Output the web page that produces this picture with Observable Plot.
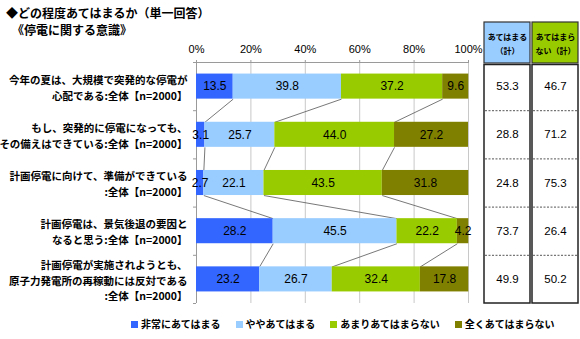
<!DOCTYPE html>
<html><head><meta charset="utf-8">
<script src="https://cdn.jsdelivr.net/npm/d3@7"></script>
<script src="https://cdn.jsdelivr.net/npm/@observablehq/plot@0.6"></script>
<style>
body{margin:0;background:#fff;}
#chart{position:relative;width:580px;height:339px;overflow:hidden;font-family:"Liberation Sans","Noto Sans CJK JP",sans-serif;}
#title{position:absolute;left:6px;top:4px;font:bold 12px/17px "Noto Sans CJK JP",sans-serif;color:#000;white-space:pre;}
#title div + div{padding-left:6px;}
#chart svg{position:absolute;overflow:visible;background:transparent;}
#legend{position:absolute;left:131px;top:317px;display:flex;gap:15px;font:bold 10px/14px "Noto Sans CJK JP",sans-serif;color:#000;}
#legend .item{display:flex;align-items:center;gap:3px;}
#legend .sw{width:7px;height:7px;display:inline-block;}
</style></head>
<body>
<div id="chart">
  <div id="title"></div>
  <div id="legend"></div>
</div>
<script>
// ---- data ----
const titleLines = ["◆どの程度あてはまるか（単一回答）", "《停電に関する意識》"];
const rowLabels = [
  "今年の夏は、大規模で突発的な停電が\n心配である:全体【n=2000】",
  "もし、突発的に停電になっても、\nその備えはできている:全体【n=2000】",
  "計画停電に向けて、準備ができている\n:全体【n=2000】",
  "計画停電は、景気後退の要因と\nなると思う:全体【n=2000】",
  "計画停電が実施されようとも、\n原子力発電所の再稼動には反対である\n:全体【n=2000】"
];
const seriesNames = ["非常にあてはまる", "ややあてはまる", "あまりあてはまらない", "全くあてはまらない"];
const seriesColors = ["#3366FF", "#99CCFF", "#99CC00", "#808000"];
const veryMuch   = [13.5, 3.1, 2.7, 28.2, 23.2];
const somewhat   = [39.8, 25.7, 22.1, 45.5, 26.7];
const notMuch    = [37.2, 44.0, 43.5, 22.2, 32.4];
const notAtAll   = [9.6, 27.2, 31.8, 4.2, 17.8];
const xTicks = [0, 20, 40, 60, 80, 100];
const colHeaders = ["あてはまる\n（計）", "あてはまら\nない（計）"];
const headerColors = ["#99CCFF", "#99CC00"];
const appliesTotal    = [53.3, 28.8, 24.8, 73.7, 49.9];
const notAppliesTotal = [46.7, 71.2, 75.3, 26.4, 50.2];

// ---- derived tables ----
const seriesValues = [veryMuch, somewhat, notMuch, notAtAll];
const nRows = rowLabels.length;
const edges = d3.range(nRows + 1).map(i => i - 0.5);
const barHalf = 0.26;
const segments = [];
const cumul = [];
for (let r = 0; r < nRows; r++) {
  let c = 0; const cs = [0];
  seriesValues.forEach((vals, s) => {
    segments.push({row: r, series: seriesNames[s], value: vals[r], x1: c, x2: c + vals[r]});
    c += vals[r]; cs.push(c);
  });
  cumul.push(cs);
}
const links = [];
for (let r = 0; r < nRows - 1; r++) {
  for (let k = 1; k < seriesNames.length; k++) {
    links.push({x1: cumul[r][k], y1: r + barHalf, x2: cumul[r + 1][k], y2: r + 1 - barHalf});
  }
}
const tableCells = [];
const separators = [];
colHeaders.forEach((col, j) => {
  const vals = j === 0 ? appliesTotal : notAppliesTotal;
  vals.forEach((v, r) => tableCells.push({col, row: r, value: v}));
  edges.slice(1, -1).forEach(e => separators.push({col, edge: e}));
});

const fontJP = "Noto Sans CJK JP";
const yOpts = {domain: [edges[0], edges[edges.length - 1]], reverse: true, axis: null};

// ---- main chart ----
const main = Plot.plot({
  width: 580, height: 320,
  marginLeft: 196, marginRight: 112, marginTop: 62, marginBottom: 17,
  x: {domain: [0, 100], axis: null},
  y: yOpts,
  color: {domain: seriesNames, range: seriesColors},
  style: {background: "transparent", fontFamily: "Liberation Sans, Noto Sans CJK JP, sans-serif", overflow: "visible"},
  marks: [
    Plot.ruleX(xTicks.slice(1), {stroke: "#c8c8c8"}),
    Plot.ruleX([0], {stroke: "#9a9a9a"}),
    Plot.ruleY([edges[0]], {stroke: "#9a9a9a"}),
    Plot.axisX({anchor: "top", ticks: xTicks, tickFormat: d => d + "%", tickSize: 3, tickPadding: 7, fontSize: 11, stroke: "#9a9a9a", fill: "#000"}),
    Plot.axisY({ticks: edges, tickSize: 3, tickFormat: () => "", stroke: "#9a9a9a"}),
    Plot.link(links, {x1: "x1", y1: "y1", x2: "x2", y2: "y2", stroke: "#555", strokeWidth: 0.8}),
    Plot.rect(segments, {x1: "x1", x2: "x2", y1: d => d.row - barHalf, y2: d => d.row + barHalf, fill: "series"}),
    Plot.text(segments, {x: d => (d.x1 + d.x2) / 2, y: "row", text: d => d.value.toFixed(1), fontSize: 12, fill: "#000"}),
    Plot.text(rowLabels, {y: (d, i) => i, text: d => d, frameAnchor: "left", textAnchor: "end", dx: -9, lineHeight: 1.52, fontSize: 10.5, fontWeight: "bold", fontFamily: fontJP, fill: "#000", ariaLabel: "row labels"})
  ]
});
main.style.left = "0px"; main.style.top = "0px";

// ---- table body ----
const xTable = {domain: colHeaders, paddingInner: 0.04, paddingOuter: 0, axis: null};
const table = Plot.plot({
  width: 110, height: 320,
  marginLeft: 14, marginRight: 1, marginTop: 62, marginBottom: 17,
  x: xTable,
  y: yOpts,
  style: {background: "transparent", fontFamily: "Liberation Sans, sans-serif", overflow: "visible"},
  marks: [
    Plot.barY(colHeaders, {x: d => d, y1: edges[0], y2: edges[edges.length - 1], insetTop: 2.5, fill: "white", stroke: "#222", strokeWidth: 1.5}),
    Plot.tickY(separators, {x: "col", y: "edge", stroke: "#555", strokeDasharray: "2,1.5", insetLeft: 1, insetRight: 1}),
    Plot.text(tableCells, {x: "col", y: "row", text: d => d.value.toFixed(1), fontSize: 11.5, fill: "#000"})
  ]
});
table.style.left = "470px"; table.style.top = "0px";

// ---- table header ----
const header = Plot.plot({
  width: 110, height: 43,
  marginLeft: 14, marginRight: 1, marginTop: 1, marginBottom: 1,
  x: xTable,
  color: {domain: colHeaders, range: headerColors},
  style: {background: "transparent", fontFamily: fontJP, overflow: "visible"},
  marks: [
    Plot.cell(colHeaders, {x: d => d, fill: d => d, stroke: "#333", strokeWidth: 1.2}),
    Plot.text(colHeaders, {x: d => d, text: d => d, frameAnchor: "middle", lineHeight: 1.75, fontSize: 8, fontWeight: "bold", fill: "#000"})
  ]
});
header.style.left = "470px"; header.style.top = "21px";

const chart = document.getElementById("chart");
chart.append(main, table, header);

// center each multi-line row label within its own block (right edge kept)
main.querySelectorAll('g[aria-label="row labels"] text').forEach(t => {
  const w = t.getBBox().width;
  t.setAttribute("text-anchor", "middle");
  t.querySelectorAll("tspan").forEach(s => s.setAttribute("x", -w / 2));
});

const title = document.getElementById("title");
titleLines.forEach(line => {
  const d = document.createElement("div"); d.textContent = line; title.append(d);
});
const legend = document.getElementById("legend");
seriesNames.forEach((name, i) => {
  const item = document.createElement("div"); item.className = "item";
  const sw = document.createElement("span"); sw.className = "sw"; sw.style.background = seriesColors[i];
  const tx = document.createElement("span"); tx.textContent = name;
  item.append(sw, tx); legend.append(item);
});
</script>
</body></html>
